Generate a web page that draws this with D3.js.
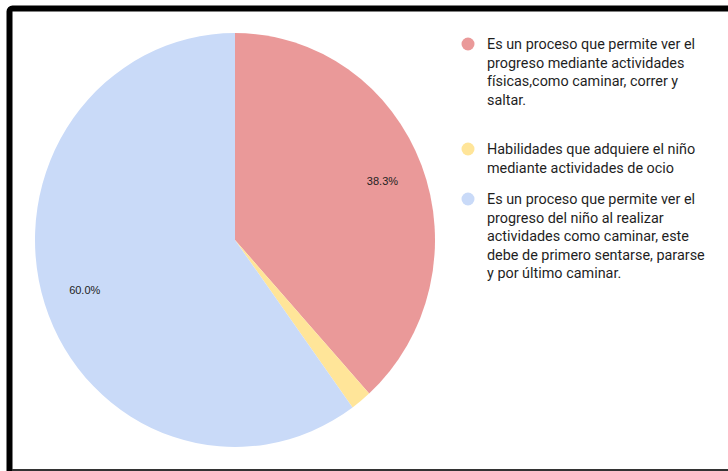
<!DOCTYPE html>
<html>
<head>
<meta charset="utf-8">
<script src="https://cdn.jsdelivr.net/npm/d3@7/dist/d3.min.js"></script>
<style>
  html, body { margin: 0; padding: 0; background: #fff; }
  svg { display: block; }
</style>
</head>
<body>
<div id="root"></div>
<script>
const width = 728;
const height = 471;

// Datos del gráfico
const categories = [
  "Es un proceso que permite ver el progreso mediante actividades físicas,como caminar, correr y saltar.",
  "Habilidades que adquiere el niño mediante actividades de ocio",
  "Es un proceso que permite ver el progreso del niño al realizar actividades como caminar, este debe de primero sentarse, pararse y por último caminar."
];
const values = [38.3, 1.7, 60.0];
const colors = ["#EA9999", "#FFE599", "#C9DAF8"];
const legendLines = [
  ["Es un proceso que permite ver el", "progreso mediante actividades", "físicas,como caminar, correr y", "saltar."],
  ["Habilidades que adquiere el niño", "mediante actividades de ocio"],
  ["Es un proceso que permite ver el", "progreso del niño al realizar", "actividades como caminar, este", "debe de primero sentarse, pararse", "y por último caminar."]
];

const cx = 235, cy = 240, radius = 200, stretchY = 1.035;

const svg = d3.select("#root")
  .append("svg")
    .attr("width", width)
    .attr("height", height);

// marco
svg.append("rect")
  .attr("x", 9.5).attr("y", 8.5)
  .attr("width", 760).attr("height", 520)
  .attr("rx", 3)
  .attr("fill", "none")
  .attr("stroke", "#000")
  .attr("stroke-width", 6);

svg.append("rect")
  .attr("x", 12).attr("y", 469)
  .attr("width", width).attr("height", 2)
  .attr("fill", "#333");

const pie = d3.pie().sort(null).value(d => d);
const arcs = pie(values);
const arc = d3.arc().innerRadius(0).outerRadius(radius);
const labelArc = d3.arc().innerRadius(radius * 0.79).outerRadius(radius * 0.79);

const pieGroup = svg.append("g")
  .attr("transform", `translate(${cx},${cy}) scale(1,${stretchY})`);

pieGroup.selectAll("path")
  .data(arcs)
  .enter()
  .append("path")
    .attr("d", arc)
    .attr("fill", (d, i) => colors[i]);

// etiquetas de porcentaje
svg.append("g")
  .selectAll("text")
  .data(arcs.filter(d => d.value >= 5))
  .enter()
  .append("text")
    .attr("x", d => cx + labelArc.centroid(d)[0])
    .attr("y", d => cy + labelArc.centroid(d)[1] * stretchY)
    .attr("dy", "0.35em")
    .attr("text-anchor", "middle")
    .style("font-family", "'Liberation Sans', Arial, sans-serif")
    .style("font-size", "11px")
    .style("fill", "#222")
    .text(d => d.value.toFixed(1) + "%");

// leyenda
const legendTop = [44, 149, 199];
const lineH = 18.5;
const legend = svg.append("g");

categories.forEach((c, i) => {
  const g = legend.append("g").attr("transform", `translate(468,${legendTop[i]})`);
  g.append("circle")
    .attr("r", 6.5)
    .attr("fill", colors[i]);
  g.append("text")
    .style("font-family", "Roboto, sans-serif")
    .style("font-size", "14.4px")
    .style("fill", "#1f1f1f")
    .selectAll("tspan")
    .data(legendLines[i])
    .enter()
    .append("tspan")
      .attr("x", 19)
      .attr("y", (d, j) => j * lineH)
      .attr("dy", "0.35em")
      .text(d => d);
});
</script>
</body>
</html>
